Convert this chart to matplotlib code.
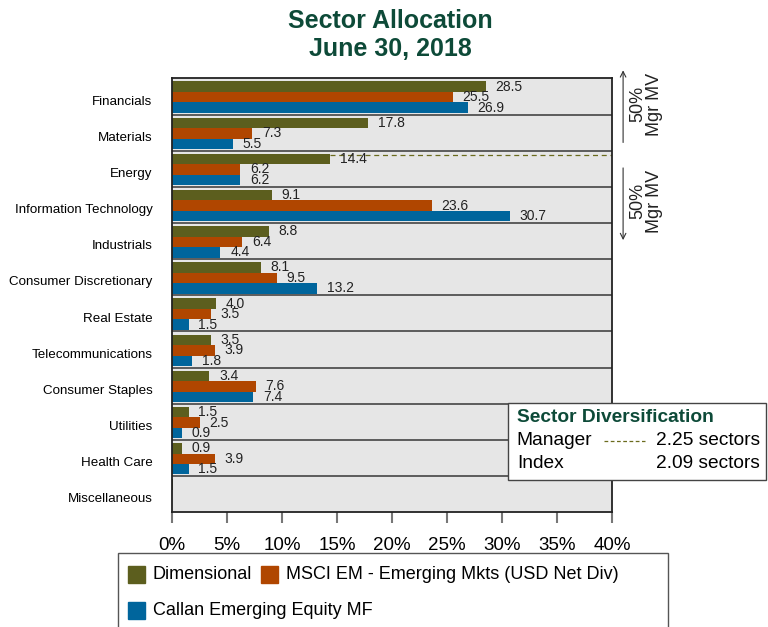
import matplotlib.pyplot as plt
from matplotlib.patches import Rectangle
import numpy as np

plt.rcParams['font.family'] = ['Liberation Sans', 'DejaVu Sans']

sectors = ['Financials', 'Materials', 'Energy', 'Information Technology',
           'Industrials', 'Consumer Discretionary', 'Real Estate',
           'Telecommunications', 'Consumer Staples', 'Utilities',
           'Health Care', 'Miscellaneous']
dimensional = [28.5, 17.8, 14.4, 9.1, 8.8, 8.1, 4.0, 3.5, 3.4, 1.5, 0.9, 0.1]
msci_em = [25.5, 7.3, 6.2, 23.6, 6.4, 9.5, 3.5, 3.9, 7.6, 2.5, 3.9, 0.0]
callan = [26.9, 5.5, 6.2, 30.7, 4.4, 13.2, 1.5, 1.8, 7.4, 0.9, 1.5, 0.0]
series_names = ['Dimensional', 'MSCI EM - Emerging Mkts (USD Net Div)',
                'Callan Emerging Equity MF']
colors = ['#5c5e1e', '#b04600', '#00659c']
xticks = [0, 5, 10, 15, 20, 25, 30, 35, 40]
mgr_diversification = 2.25
idx_diversification = 2.09

green = '#0d4a38'

fig = plt.figure(figsize=(7.68, 6.27), dpi=100)
ax = fig.add_axes([0.224, 0.183, 0.573, 0.692])

ypos = np.arange(len(sectors))
offsets = [0.23, 0.52, 0.81]
bh = 0.29
for vals, off, c in zip([dimensional, msci_em, callan], offsets, colors):
    ax.barh(ypos + off, vals, height=bh, color=c, edgecolor='none')
    for y, v in zip(ypos, vals):
        if v >= 0.5:
            ax.annotate('%.1f' % v, (v, y + off), xytext=(7, 0),
                        textcoords='offset points', va='center', ha='left',
                        fontsize=10, color='#222222')

# band separators
for y in ypos[1:]:
    ax.axhline(y, color='#444444', lw=1.2)

# manager 50% cumulative line
ax.hlines(2.13, 14.4, 40, colors='#6b6b1e', linestyles=(0, (4, 3)), lw=0.9)

ax.set_facecolor('#e6e6e6')
ax.set_xlim(0, 40)
ax.set_ylim(len(sectors), 0)
ax.set_yticks(ypos + 0.6)
ax.set_yticklabels(sectors, fontsize=9.6)
ax.tick_params(axis='y', length=0, pad=14)
ax.set_xticks(xticks)
ax.set_xticklabels(['%d%%' % t for t in xticks], fontsize=13.5)
ax.tick_params(axis='x', direction='out', length=8, color='#777777',
               width=1.5, pad=10)
for s in ax.spines.values():
    s.set_color('#222222')
    s.set_linewidth(1.3)

fig.text(0.508, 0.966, 'Sector Allocation', ha='center', va='center',
         fontsize=18, fontweight='bold', color=green)
fig.text(0.508, 0.922, 'June 30, 2018', ha='center', va='center',
         fontsize=18, fontweight='bold', color=green)

# 50% Mgr MV arrows on the right
ax.annotate('', xy=(41.0, -0.3), xytext=(41.0, 1.85), xycoords='data',
            arrowprops=dict(arrowstyle='->', color='#333333', lw=0.8),
            annotation_clip=False)
ax.annotate('', xy=(41.0, 4.55), xytext=(41.0, 2.4), xycoords='data',
            arrowprops=dict(arrowstyle='->', color='#333333', lw=0.8),
            annotation_clip=False)
for yc in [0.72, 3.4]:
    ax.text(43.1, yc, '50%\nMgr MV', rotation=90, ha='center', va='center',
            fontsize=13, color='#222222', linespacing=0.95, clip_on=False)

# sector diversification box
fig.patches.append(Rectangle((0.662, 0.234), 0.335, 0.124,
                             transform=fig.transFigure, facecolor='white',
                             edgecolor='#444444', lw=1.0, zorder=5))
fig.text(0.673, 0.334, 'Sector Diversification', fontsize=13.8,
         fontweight='bold', color=green, va='center', zorder=6)
fig.text(0.673, 0.297, 'Manager', fontsize=13.8, va='center', zorder=6)
fig.text(0.673, 0.260, 'Index', fontsize=13.8, va='center', zorder=6)
fig.text(0.990, 0.297, '%.2f sectors' % mgr_diversification, fontsize=13.8,
         va='center', ha='right', zorder=6)
fig.text(0.990, 0.260, '%.2f sectors' % idx_diversification, fontsize=13.8,
         va='center', ha='right', zorder=6)
fig.lines.append(plt.Line2D([0.787, 0.840], [0.297, 0.297],
                            transform=fig.transFigure, color='#6b6b1e',
                            ls=(0, (3, 2)), lw=0.9, zorder=6))

# legend, laid out by hand so the rows flow like text
fig.patches.append(Rectangle((0.154, -0.05), 0.716, 0.168,
                             transform=fig.transFigure, facecolor='white',
                             edgecolor='#555555', lw=1.0))
sq_w, sq_h = 17 / 768, 17 / 627
legend_slots = [(128, 0.0845), (261, 0.0845), (128, 0.027)]
for (px, yy), name, c in zip(legend_slots, series_names, colors):
    fig.patches.append(Rectangle((px / 768, yy - sq_h / 2), sq_w, sq_h,
                                 transform=fig.transFigure, color=c))
    fig.text((px + 25) / 768, yy, name, fontsize=13, va='center')

fig.savefig('out.png', dpi=100)
